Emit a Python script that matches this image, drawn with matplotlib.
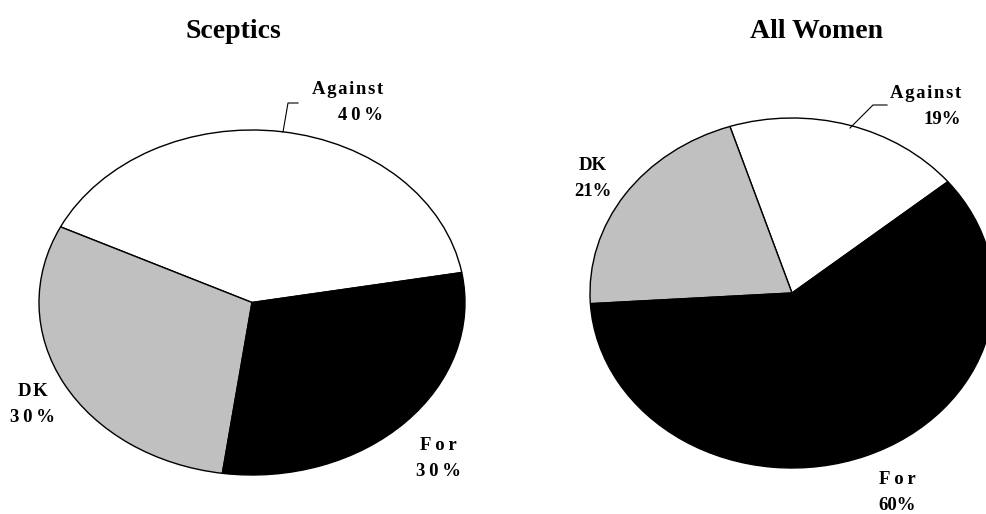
import matplotlib
matplotlib.use('Agg')
import matplotlib.pyplot as plt

plt.rcParams['font.family'] = ['Liberation Serif', 'DejaVu Serif']
plt.rcParams['font.weight'] = 'bold'

categories = ['Against', 'DK', 'For']
colors = ['white', '#c0c0c0', 'black']
sceptics = [40, 30, 30]
women = [19, 21, 60]
titles = ['Sceptics', 'All Women']

W, H = 986, 514
fig = plt.figure(figsize=(W / 100, H / 100), dpi=100)


def pie_axes(x0, y0, x1, y1):
    # box in pixel coords (top-left origin)
    return fig.add_axes([x0 / W, 1 - y1 / H, (x1 - x0) / W, (y1 - y0) / H])


ax1 = pie_axes(39, 130, 465, 475)
ax2 = pie_axes(590, 118, 994, 468)
for ax, vals, start in [(ax1, sceptics, 10), (ax2, women, 39.5)]:
    ax.pie(vals, colors=colors, startangle=start, radius=1,
           wedgeprops=dict(edgecolor='black', linewidth=1))
    ax.set_aspect('auto')
    ax.set_xlim(-1, 1)
    ax.set_ylim(-1, 1)
    ax.axis('off')

# overlay for text in pixel coords
ov = fig.add_axes([0, 0, 1, 1])
ov.set_xlim(0, W)
ov.set_ylim(H, 0)
ov.axis('off')
ov.patch.set_alpha(0)

ov.text(233, 31, titles[0], ha='center', va='center', fontsize=20)
ov.text(817, 31, titles[1], ha='center', va='center', fontsize=20)

fs = 13.5


def spaced(s, sep):
    return sep.join(s) if sep else s


def label(x, y, name, pct, ha='center', sep1='', sep2=''):
    ov.text(x, y, spaced(name, sep1), ha=ha, va='center', fontsize=fs)
    ov.text(x, y + 26, spaced(f'{pct}%', sep2), ha=ha, va='center', fontsize=fs)

thin = '\u2009'
hair = '\u200a'

# Sceptics
label(383, 90, categories[0], sceptics[0], ha='right', sep1=hair, sep2=thin)
label(33, 391, categories[1], sceptics[1], sep1=hair, sep2=thin)
label(438, 445, categories[2], sceptics[2], sep1=thin, sep2=thin)
ov.plot([283, 288, 298], [132, 103, 103], color='black', lw=0.8)

# All Women
label(961, 93, categories[0], women[0], ha='right', sep1=hair, sep2='')
label(593, 166, categories[1], women[1])
label(897, 479, categories[2], women[2], sep1=thin, sep2='')
ov.plot([850, 873, 887], [128, 105, 105], color='black', lw=0.8)

fig.savefig('out.png', dpi=100)
